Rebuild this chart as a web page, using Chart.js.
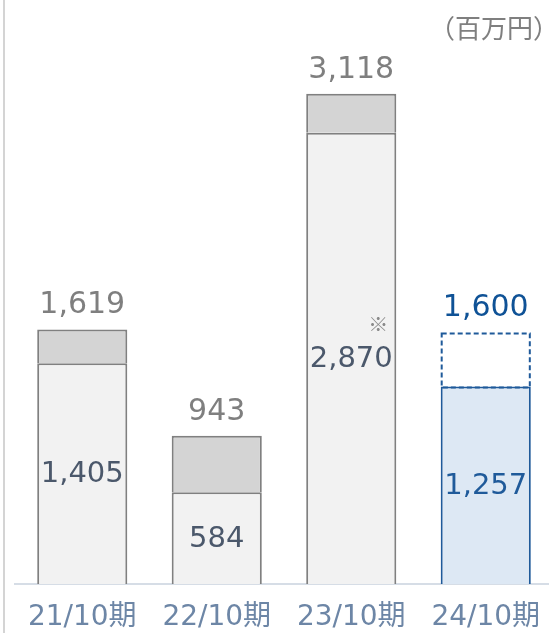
<!DOCTYPE html>
<html lang="ja">
<head>
<meta charset="utf-8">
<script src="https://cdn.jsdelivr.net/npm/chart.js@4.4.1/dist/chart.umd.min.js"></script>
<style>
  html, body { margin: 0; padding: 0; background: #fff; overflow: hidden; }
  #wrap { width: 553px; height: 633px; position: relative; }
</style>
</head>
<body>
<div id="wrap"><canvas id="chart"></canvas></div>
<script>
// --- データ ---
const periods = ['21/10期', '22/10期', '23/10期', '24/10期'];
const baseValues = [1405, 584, 2870, 1257];
const totalValues = [1619, 943, 3118, 1600];
const unitLabel = '（百万円）';
const noteMark = '※';

// 上段 = 合計 - 下段
const topValues = totalValues.map((t, i) => t - baseValues[i]);

const FONT = "'DejaVu Sans', 'Noto Sans CJK JP', sans-serif";
const CJK = "'Noto Sans CJK JP', sans-serif";
const fmt = v => v.toLocaleString('en-US');

// 予想期(最後)だけ青系
const lastIdx = periods.length - 1;
const baseFill = periods.map((_, i) => i === lastIdx ? '#dde8f4' : '#f2f2f2');
const baseBorder = periods.map((_, i) => i === lastIdx ? '#1f5a9a' : '#808080');
const topFill = periods.map((_, i) => i === lastIdx ? '#ffffff' : '#d4d4d4');
const topBorder = periods.map((_, i) => i === lastIdx ? 'rgba(0,0,0,0)' : '#808080');

// 左の縦線・単位・ラベル類を描くプラグイン
const decorPlugin = {
    id: 'decor',
    beforeDraw(chart) {
        const ctx = chart.ctx;
        ctx.save();
        ctx.strokeStyle = '#d4d4d4';
        ctx.lineWidth = 2;
        ctx.beginPath();
        ctx.moveTo(4, 0);
        ctx.lineTo(4, chart.height);
        ctx.stroke();
        ctx.restore();
    },
    afterDatasetsDraw(chart) {
        const ctx = chart.ctx;
        const baseMeta = chart.getDatasetMeta(0);
        const topMeta = chart.getDatasetMeta(1);
        ctx.save();

        // 予想期の上段は破線の枠
        const el = topMeta.data[lastIdx];
        const p = el.getProps(['x', 'y', 'base', 'width'], true);
        ctx.strokeStyle = '#1f5a9a';
        ctx.lineWidth = 2;
        ctx.setLineDash([5, 3]);
        ctx.strokeRect(p.x - p.width / 2 + 1, p.y + 1, p.width - 2, p.base - p.y);
        ctx.setLineDash([]);

        ctx.textAlign = 'center';
        ctx.textBaseline = 'middle';

        // 下段の値(バー内中央)
        ctx.font = `29px ${FONT}`;
        baseMeta.data.forEach((bar, i) => {
            const b = bar.getProps(['x', 'y', 'base'], true);
            ctx.fillStyle = i === lastIdx ? '#1f5a9a' : '#4b586b';
            ctx.fillText(fmt(baseValues[i]), b.x, (b.y + b.base) / 2 + 1);
        });

        // 合計(バー上)
        ctx.font = `30px ${FONT}`;
        topMeta.data.forEach((bar, i) => {
            const t = bar.getProps(['x', 'y'], true);
            ctx.fillStyle = i === lastIdx ? '#0f5296' : '#7f7f7f';
            ctx.fillText(fmt(totalValues[i]), t.x, t.y - 24);
        });

        // ※ マーク
        const b3 = baseMeta.data[2].getProps(['x', 'y'], true);
        ctx.font = `20px ${CJK}`;
        ctx.fillStyle = '#8a8a8a';
        ctx.fillText(noteMark, b3.x + 27, b3.y + 192);

        // 単位
        ctx.font = `26px ${CJK}`;
        ctx.fillStyle = '#7f7f7f';
        ctx.textAlign = 'right';
        ctx.fillText(unitLabel, 559, 28);
        ctx.restore();
    }
};

new Chart(document.getElementById('chart'), {
    type: 'bar',
    data: {
        labels: periods,
        datasets: [
            {
                label: '下段',
                data: baseValues,
                backgroundColor: baseFill,
                borderColor: baseBorder,
                borderWidth: { top: 2, left: 2, right: 2, bottom: 0 },
                borderSkipped: false
            },
            {
                label: '上段',
                data: topValues,
                backgroundColor: topFill,
                borderColor: topBorder,
                borderWidth: { top: 2, left: 2, right: 2, bottom: 0 },
                borderSkipped: false
            }
        ]
    },
    options: {
        responsive: true, maintainAspectRatio: false,
        animation: false,
        layout: { padding: { left: 15, right: 0, top: 0, bottom: 0 } },
        datasets: { bar: { barPercentage: 0.67, categoryPercentage: 1 } },
        plugins: { legend: { display: false }, tooltip: { enabled: false } },
        scales: {
            x: {
                stacked: true,
                grid: { display: false, drawTicks: false },
                border: { display: true, color: '#d6dde6', width: 2 },
                ticks: { color: '#6d86a6', font: { family: FONT, size: 28 }, padding: 17, maxRotation: 0 },
                afterFit(scale) {
                    scale.height = 49;
                    scale.paddingLeft = 0;
                    scale.paddingRight = 0;
                }
            },
            y: {
                stacked: true,
                display: false,
                min: 0,
                max: 3715
            }
        }
    },
    plugins: [decorPlugin]
});
</script>
</body>
</html>
